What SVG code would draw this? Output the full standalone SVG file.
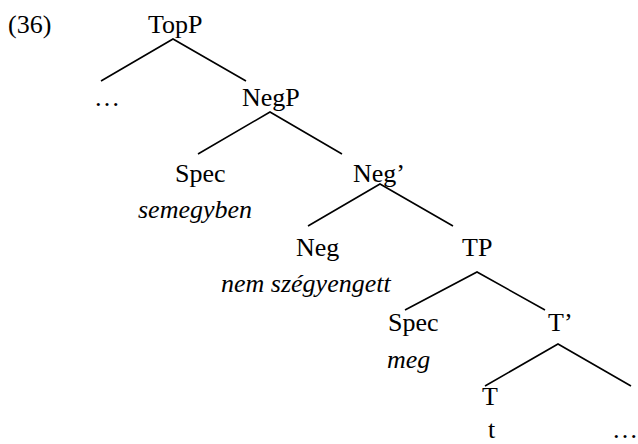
<svg xmlns="http://www.w3.org/2000/svg" width="638" height="444" viewBox="0 0 638 444">
<style>
  text { font-family: "Liberation Serif", "Times New Roman", serif; font-size: 26px; fill: #000; }
  .it { font-style: italic; }
  .edge { stroke: #000; stroke-width: 1.6; fill: none; stroke-linecap: butt; }
</style>
<rect width="638" height="444" fill="#fff"/>
<text id="label" x="8" y="33">(36)</text>
<g id="connectors">
  <path class="edge" d="M101,81 L173,39 L246,81"/>
  <path class="edge" d="M198,154 L270,112 L342,154"/>
  <path class="edge" d="M308,226 L380,184 L453,226"/>
  <path class="edge" d="M405,310 L477,272 L545,310"/>
  <path class="edge" d="M485,386 L558,344 L631,386"/>
</g>
<g id="TopP"><text x="148" y="33">TopP</text></g>
<g id="dots1"><text x="107" y="106" text-anchor="middle">…</text></g>
<g id="NegP"><text x="242" y="106">NegP</text></g>
<g id="SpecNeg"><text x="175" y="182">Spec</text><text class="it" x="138" y="218">semegyben</text></g>
<g id="NegBar"><text x="353" y="182">Neg’</text></g>
<g id="Neg"><text x="296" y="256">Neg</text><text class="it" x="221" y="292">nem szégyengett</text></g>
<g id="TP"><text x="462" y="256">TP</text></g>
<g id="SpecT"><text x="388" y="331">Spec</text><text class="it" x="387" y="368">meg</text></g>
<g id="TBar"><text x="548" y="331">T’</text></g>
<g id="T"><text x="482" y="405">T</text><text x="488" y="438">t</text></g>
<g id="dots2"><text x="612" y="438">…</text></g>
</svg>
